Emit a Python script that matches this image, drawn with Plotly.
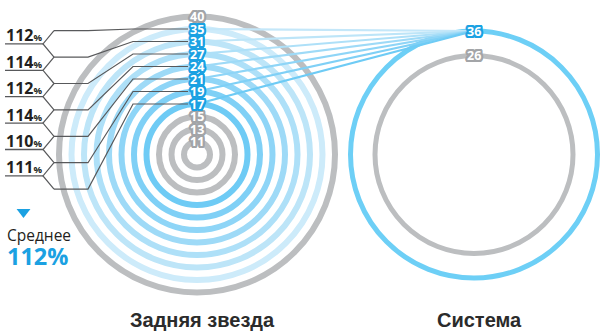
import numpy as np
import plotly.graph_objects as go

# ---------------- data ----------------
cassette = [11, 13, 15, 17, 19, 21, 24, 27, 31, 35, 40]       # rear cogs (teeth)
chainrings = [26, 36]                                       # front chainrings (teeth)
main_ring = 36                                              # chainring used with the highlighted cogs
paired_cogs = [35, 31, 27, 24, 21, 19, 17]                  # cogs linked to the 36T ring
step_pct = [112, 114, 112, 114, 110, 111]                   # step between neighbouring cogs, %
average_pct = 112
label_left = "Задняя звезда"
label_right = "Система"
label_avg = "Среднее"

# ---------------- layout / style constants ----------------
W, H = 600, 331
LCX, LCY = 197, 154.5        # centre of cassette rings (px)
RCX, RCY = 474, 154.5        # centre of chainrings (px)
R_MIN, R_STEP = 13, 12.5     # cassette ring radius progression
CR_OUT, CR_GAP = 123.5, 24.5 # chainring radii
BR_TOP, BR_STEP = 30.7, 26.4 # bracket nodes
GREY = "#bcbec0"
GREY_LBL = "#a3a5a8"
BLUE_LBL = "#1ba1e2"
BLUE_RING = "#6dcff6"
blue_shades = ["#cdebfa", "#bde5f8", "#aee0f8", "#9edaf7", "#8ed5f7", "#7fd0f6", "#6ecbf5"]
LINE_GREY = "#58595b"
TXT = "#231f20"

def outline(color, r=2.2, n=16):
    parts = []
    for k in range(n):
        a = 2 * np.pi * k / n
        parts.append(f"{r*np.cos(a):.2f}px {r*np.sin(a):.2f}px 0 {color}")
    return ", ".join(parts)

fig = go.Figure()
shapes = []
annotations = []

# cassette rings
ring_r = {t: R_MIN + R_STEP * i for i, t in enumerate(sorted(cassette))}
ring_col = {}
for t in cassette:
    if t in paired_cogs:
        ring_col[t] = blue_shades[paired_cogs.index(t)]
    else:
        ring_col[t] = GREY
for t in sorted(cassette, reverse=True):
    r = ring_r[t]
    shapes.append(dict(type="circle", xref="x", yref="y", layer="below",
                       x0=LCX - r, x1=LCX + r, y0=LCY - r, y1=LCY + r,
                       line=dict(color=ring_col[t], width=6)))

# chainrings
cr_r = {t: CR_OUT - CR_GAP * k for k, t in enumerate(sorted(chainrings, reverse=True))}
for t in chainrings:
    r = cr_r[t]
    col = BLUE_RING if t == main_ring else GREY
    shapes.append(dict(type="circle", xref="x", yref="y", layer="below",
                       x0=RCX - r, x1=RCX + r, y0=RCY - r, y1=RCY + r,
                       line=dict(color=col, width=5)))

# lines from highlighted cogs to the main chainring label
main_y = RCY - cr_r[main_ring]
for t in paired_cogs:
    ly = LCY - ring_r[t]
    fig.add_trace(go.Scatter(x=[LCX, RCX], y=[ly, main_y], mode="lines",
                             line=dict(color=ring_col[t] if t != 35 else "#c4e7f9", width=2.2),
                             hoverinfo="skip", showlegend=False))

# bracket lines and step percentages
node_y = [BR_TOP + BR_STEP * j for j in range(len(paired_cogs))]
for j, t in enumerate(paired_cogs):
    ly = LCY - ring_r[t]
    fig.add_trace(go.Scatter(x=[54, 88, 133, 188], y=[node_y[j], node_y[j], ly, ly],
                             mode="lines", line=dict(color=LINE_GREY, width=1.2),
                             hoverinfo="skip", showlegend=False))
for j, p in enumerate(step_pct):
    vy = (node_y[j] + node_y[j + 1]) / 2
    fig.add_trace(go.Scatter(x=[54, 43, 54], y=[node_y[j], vy, node_y[j + 1]],
                             mode="lines", line=dict(color=LINE_GREY, width=1.2),
                             hoverinfo="skip", showlegend=False))
    fig.add_trace(go.Scatter(x=[5, 43], y=[vy, vy], mode="lines",
                             line=dict(color=LINE_GREY, width=1.3),
                             hoverinfo="skip", showlegend=False))
    annotations.append(dict(x=4, y=vy - 8.5, xref="x", yref="y", xanchor="left", yanchor="middle",
                            showarrow=False,
                            text=f"<b>{p}</b><span style='font-size:9.5px'><b>%</b></span>",
                            font=dict(family="Open Sans", size=16, color=TXT)))

# average marker
fig.add_trace(go.Scatter(x=[23.5], y=[212], mode="markers",
                         marker=dict(symbol="triangle-down", size=12, color=BLUE_LBL, line=dict(width=0)),
                         hoverinfo="skip", showlegend=False))
annotations.append(dict(x=5, y=235, xref="x", yref="y", xanchor="left", yanchor="middle",
                        showarrow=False, text=label_avg,
                        font=dict(family="Open Sans", size=15.5, color=TXT)))
annotations.append(dict(x=5, y=256, xref="x", yref="y", xanchor="left", yanchor="middle",
                        showarrow=False, text=f"<b>{average_pct}%</b>",
                        font=dict(family="Open Sans", size=23.5, color=BLUE_LBL)))

# ring labels
for t in cassette:
    col = BLUE_LBL if t in paired_cogs else GREY_LBL
    annotations.append(dict(x=LCX, y=LCY - ring_r[t], xref="x", yref="y",
                            xanchor="center", yanchor="middle", showarrow=False,
                            text=f"<b>{t}</b>",
                            font=dict(family="Open Sans", size=12.5, color="white",
                                      shadow=outline(col))))
for t in chainrings:
    col = BLUE_LBL if t == main_ring else GREY_LBL
    annotations.append(dict(x=RCX, y=RCY - cr_r[t], xref="x", yref="y",
                            xanchor="center", yanchor="middle", showarrow=False,
                            text=f"<b>{t}</b>",
                            font=dict(family="Open Sans", size=12.5, color="white",
                                      shadow=outline(col))))

# bottom titles
annotations.append(dict(x=LCX + 5, y=320, xref="x", yref="y", xanchor="center", yanchor="middle",
                        showarrow=False, text=f"<b>{label_left}</b>",
                        font=dict(family="Liberation Sans", size=20, color="#2b2b2b")))
annotations.append(dict(x=RCX + 5, y=320, xref="x", yref="y", xanchor="center", yanchor="middle",
                        showarrow=False, text=f"<b>{label_right}</b>",
                        font=dict(family="Liberation Sans", size=20, color="#2b2b2b")))

fig.update_layout(width=W, height=H, margin=dict(l=0, r=0, t=0, b=0),
                  paper_bgcolor="white", plot_bgcolor="white",
                  xaxis=dict(range=[0, W], visible=False, fixedrange=True),
                  yaxis=dict(range=[H, 0], visible=False, fixedrange=True),
                  shapes=shapes, annotations=annotations, showlegend=False)

fig.write_html("out.html", config={"displayModeBar": False},
               post_script="document.body.style.margin='0';document.body.style.overflow='hidden';")
